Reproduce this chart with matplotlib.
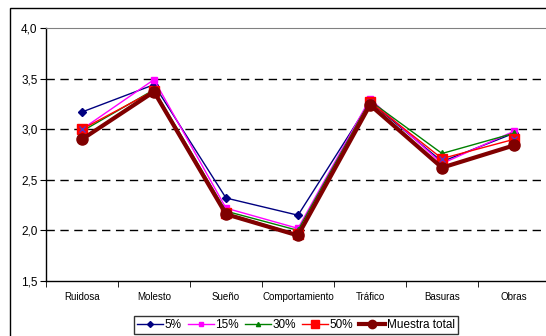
import matplotlib
matplotlib.use("Agg")
import matplotlib.pyplot as plt
from matplotlib.patches import Rectangle

categories = ["Ruidosa", "Molesto", "Sueño", "Comportamiento", "Tráfico", "Basuras", "Obras"]
s5 = [3.17, 3.44, 2.32, 2.15, 3.27, 2.68, 2.96]
s15 = [3.00, 3.49, 2.22, 2.02, 3.30, 2.66, 2.98]
s30 = [2.98, 3.39, 2.19, 2.00, 3.28, 2.76, 2.96]
s50 = [3.00, 3.38, 2.17, 1.96, 3.27, 2.71, 2.90]
total = [2.90, 3.37, 2.16, 1.95, 3.24, 2.62, 2.84]
yticks = [1.5, 2.0, 2.5, 3.0, 3.5, 4.0]
ytick_labels = ["1,5", "2,0", "2,5", "3,0", "3,5", "4,0"]

plt.rcParams["font.family"] = ["Liberation Sans", "DejaVu Sans"]

W, H = 546, 336
fig = plt.figure(figsize=(W / 100, H / 100), dpi=100)

# outer chart frame
fig.patches.append(Rectangle((10 / W, 1 - 400 / H), 600 / W, 392 / H,
                             transform=fig.transFigure, fill=False,
                             edgecolor="black", linewidth=1.0))

ax = fig.add_axes([46 / W, 1 - 281 / H, 504 / W, 253 / H])
x = list(range(len(categories)))

ax.plot(x, s5, color="#000080", lw=1.0, marker="D", ms=4, label="5%", zorder=3)
ax.plot(x, s15, color="#FF00FF", lw=1.0, marker="s", ms=4, label="15%", zorder=3)
ax.plot(x, s30, color="#008000", lw=1.0, marker="^", ms=4, label="30%", zorder=3)
ax.plot(x, s50, color="#FF0000", lw=1.0, marker="s", ms=7, mfc="#FF0000",
        mec="#FF0000", label="50%", zorder=3)
ax.plot(x, s50, ls="none", marker="x", ms=4, color="#6030C0", mew=1.0, zorder=3)
ax.plot(x, total, color="#800000", lw=3.0, marker="o", ms=8, label="Muestra total", zorder=4)

ax.set_xlim(-0.5, len(categories) - 0.5)
ax.set_ylim(1.5, 4.0)
ax.set_yticks(yticks)
ax.set_yticklabels(ytick_labels, fontsize=8.5)
ax.set_xticks(x)
ax.set_xticklabels(categories, fontsize=7)
ax.set_xticks([i - 0.5 for i in range(len(categories) + 1)], minor=True)
ax.tick_params(axis="x", which="major", length=0, pad=8)
ax.tick_params(axis="x", which="minor", length=4, direction="out", color="black")
ax.tick_params(axis="y", length=4, direction="out", color="black", pad=2)

for v in [2.0, 2.5, 3.0, 3.5]:
    ax.axhline(v, color="black", ls=(0, (6, 4)), lw=1.0, zorder=1)

ax.spines["top"].set_color("#808080")
ax.spines["right"].set_visible(False)
ax.spines["left"].set_linewidth(1.0)
ax.spines["bottom"].set_linewidth(1.0)

leg = fig.legend(loc="center", bbox_to_anchor=(296 / W, 1 - 325 / H), ncol=5,
                 fontsize=8.5, frameon=True, fancybox=False, edgecolor="black",
                 handlelength=2.2, handletextpad=0.15, columnspacing=0.5,
                 borderpad=0.25, borderaxespad=0, markerscale=0.75)
leg.get_frame().set_linewidth(1.0)

fig.savefig("out.png", dpi=100)
